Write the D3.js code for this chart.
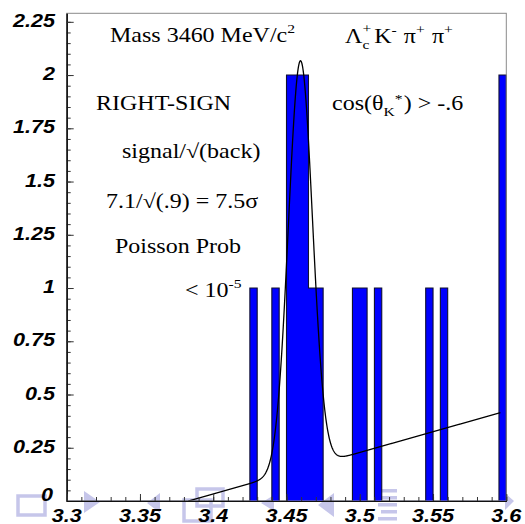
<!DOCTYPE html>
<html>
<head>
<meta charset="utf-8">
<script src="https://cdn.jsdelivr.net/npm/d3@7"></script>
<style>
  html, body { margin: 0; padding: 0; background: #fff; }
  svg { display: block; }
</style>
</head>
<body>
<svg id="chart" width="525" height="524"></svg>
<script>
// Λc+ K- π+ π+ invariant mass histogram, 60 bins of 5 MeV/c^2 from 3.3 to 3.6 GeV/c^2
const binWidth = 0.005;
const filledBinLow = [3.425, 3.44, 3.45, 3.455, 3.46, 3.465, 3.47, 3.495, 3.5, 3.51, 3.545, 3.555, 3.595];
const filledBinCount = [1, 1, 2, 2, 2, 1, 1, 1, 1, 1, 1, 1, 2];

// Axis ticks and labels
const xTicks = [3.3, 3.35, 3.4, 3.45, 3.5, 3.55, 3.6];
const xTickLabels = ["3.3", "3.35", "3.4", "3.45", "3.5", "3.55", "3.6"];
const yTicks = [0, 0.25, 0.5, 0.75, 1, 1.25, 1.5, 1.75, 2, 2.25];
const yTickLabels = ["0", "0.25", "0.5", "0.75", "1", "1.25", "1.5", "1.75", "2", "2.25"];

// Fit result: gaussian peak on a linear background starting at threshold
const fitMass = 3.4595;
const fitSigma = 0.0082;
const fitAmplitude = 1.918;
const bgSlope = 1.948;
const bgThreshold = 3.383;
const fitRange = [3.383, 3.596];

const svg = d3.select("#chart");
const X0 = 66.7, X1 = 506.3, Y0 = 501, Y1 = 13.3;
const x = d3.scaleLinear().domain([3.3, 3.6]).range([X0, X1]);
const y = d3.scaleLinear().domain([0, 2.29]).range([Y0, Y1]);

const serif = "'Liberation Serif', 'Times New Roman', serif";
const sans = "'Liberation Sans', Arial, Helvetica, sans-serif";
const STRETCH = 1.2;

// Beamer navigation glyphs faintly printed along the bottom edge
const nav = svg.append("g").attr("fill", "#c6c6ea").attr("stroke", "#c6c6ea");
nav.append("rect").attr("x", 18).attr("y", 496).attr("width", 27).attr("height", 19)
  .attr("fill", "none").attr("stroke-width", 3.5);
nav.append("path").attr("d", "M84,491 L100,502 L84,513 Z").attr("stroke", "none");
nav.append("path").attr("d", "M160,493 L147,503 L160,513 Z").attr("stroke", "none");
nav.append("rect").attr("x", 197).attr("y", 489).attr("width", 26).attr("height", 17)
  .attr("fill", "none").attr("stroke-width", 3.5);
nav.append("rect").attr("x", 184).attr("y", 500).attr("width", 27).attr("height", 21)
  .attr("fill", "none").attr("stroke-width", 3.5);
nav.append("path").attr("d", "M274,495 L261,503 L274,511 Z").attr("stroke", "none");
nav.append("path").attr("d", "M334,493 L318,505 L334,517 Z").attr("stroke", "none");
[489, 496, 503, 510, 517].forEach((yy, i) => {
  nav.append("rect").attr("x", i % 2 ? 381 : 378).attr("y", yy).attr("width", i % 2 ? 16 : 19)
    .attr("height", 3.5).attr("stroke", "none");
});
nav.append("path").attr("d", "M505,493 L514,501 L505,510 Z").attr("stroke", "none");

// Histogram as a filled step outline
const counts = new Array(60).fill(0);
filledBinLow.forEach((lo, i) => {
  counts[Math.round((lo - 3.3) / binWidth)] = filledBinCount[i];
});
const steps = [[3.3, 0]];
counts.forEach((c, i) => {
  const lo = 3.3 + i * binWidth;
  steps.push([lo, c], [lo + binWidth, c]);
});
steps.push([3.6, 0]);
svg.append("path")
  .attr("d", d3.line().x(d => x(d[0])).y(d => y(d[1]))(steps))
  .attr("fill", "#0000ff")
  .attr("stroke", "#101030")
  .attr("stroke-width", 1.1)
  .attr("stroke-linejoin", "miter");

// Fit curve
svg.append("clipPath").attr("id", "plotClip")
  .append("rect").attr("x", X0).attr("y", Y1).attr("width", X1 - X0).attr("height", Y0 - Y1);
const fit = m => Math.max(0, bgSlope * (m - bgThreshold)) +
  fitAmplitude * Math.exp(-((m - fitMass) ** 2) / (2 * fitSigma * fitSigma));
const masses = d3.range(fitRange[0], fitRange[1], 0.0002).concat([fitRange[1]]);
svg.append("path")
  .attr("clip-path", "url(#plotClip)")
  .attr("d", d3.line().x(m => x(m)).y(m => y(fit(m)))(masses))
  .attr("fill", "none")
  .attr("stroke", "#000")
  .attr("stroke-width", 1.3);

// Frame
svg.append("rect").attr("x", X0).attr("y", Y1).attr("width", X1 - X0).attr("height", Y0 - Y1)
  .attr("fill", "none").attr("stroke", "#8a8a8a").attr("stroke-width", 1);

// Axes with inward ticks
const yMinor = d3.range(0, 2.2501, 0.05);
const xMinor = d3.range(3.3, 3.6001, 0.01);
const yAxisG = svg.append("g").attr("transform", `translate(${X0},0)`);
yAxisG.call(d3.axisLeft(y).tickValues(yMinor).tickSize(-4).tickSizeOuter(0).tickFormat(""));
yAxisG.call(g => g.append("g").call(d3.axisLeft(y).tickValues(yTicks).tickSize(-7).tickSizeOuter(0).tickFormat("")));
const xAxisG = svg.append("g").attr("transform", `translate(0,${Y0})`);
xAxisG.call(d3.axisBottom(x).tickValues(xMinor).tickSize(-4).tickSizeOuter(0).tickFormat(""));
xAxisG.call(g => g.append("g").call(d3.axisBottom(x).tickValues(xTicks).tickSize(-7).tickSizeOuter(0).tickFormat("")));
svg.selectAll(".domain").attr("stroke", "#111").attr("stroke-width", 1.2);
svg.selectAll(".tick line").attr("stroke", "#333").attr("stroke-width", 1);

// Tick labels: bold italic sans, slightly widened
yTicks.forEach((v, i) => {
  const isZero = v === 0;
  svg.append("text")
    .attr("transform", `translate(${isZero ? 53 : 55},${y(v) + (isZero ? -0.5 : 5)}) scale(${STRETCH},1)`)
    .attr("text-anchor", "end")
    .attr("font-family", sans).attr("font-weight", "bold").attr("font-style", "italic")
    .attr("font-size", 18).attr("fill", "#000")
    .text(yTickLabels[i]);
});
xTicks.forEach((v, i) => {
  svg.append("text")
    .attr("transform", `translate(${x(v)},${521.5}) scale(${STRETCH},1)`)
    .attr("text-anchor", "middle")
    .attr("font-family", sans).attr("font-weight", "bold").attr("font-style", "italic")
    .attr("font-size", 18).attr("fill", "#000")
    .text(xTickLabels[i]);
});

// Annotations in serif type
function note(px, py) {
  return svg.append("text")
    .attr("transform", `translate(${px},${py}) scale(${STRETCH},1)`)
    .attr("font-family", serif).attr("font-size", 20).attr("fill", "#000");
}
let t = note(110, 42);
t.append("tspan").text("Mass 3460 MeV/c");
t.append("tspan").attr("dy", -9).attr("font-size", 13).text("2");

t = note(345, 43);
t.append("tspan").text("Λ");
t.append("tspan").attr("dy", -10).attr("font-size", 13).text("+");
t.append("tspan").attr("dx", -7.3).attr("dy", 16).attr("font-size", 13).text("c");
t.append("tspan").attr("dy", -6).attr("dx", 4).text("K");
t.append("tspan").attr("dy", -9).attr("font-size", 13).text("-");
t.append("tspan").attr("dy", 9).attr("dx", 6).text("π");
t.append("tspan").attr("dy", -9).attr("font-size", 13).text("+");
t.append("tspan").attr("dy", 9).attr("dx", 6).text("π");
t.append("tspan").attr("dy", -9).attr("font-size", 13).text("+");

note(96, 110).text("RIGHT-SIGN");

t = note(332, 110);
t.append("tspan").text("cos(θ");
t.append("tspan").attr("dy", 6).attr("font-size", 13).text("K");
t.append("tspan").attr("dy", -13).attr("font-size", 13).text("*");
t.append("tspan").attr("dy", 7).attr("dx", 1).text(") > -.6");

note(122, 158).text("signal/√(back)");
note(106, 208).text("7.1/√(.9) = 7.5σ");
note(115, 253).text("Poisson Prob");

t = note(185, 297);
t.append("tspan").text("< 10");
t.append("tspan").attr("dy", -9).attr("font-size", 13).text("-5");
</script>
</body>
</html>
